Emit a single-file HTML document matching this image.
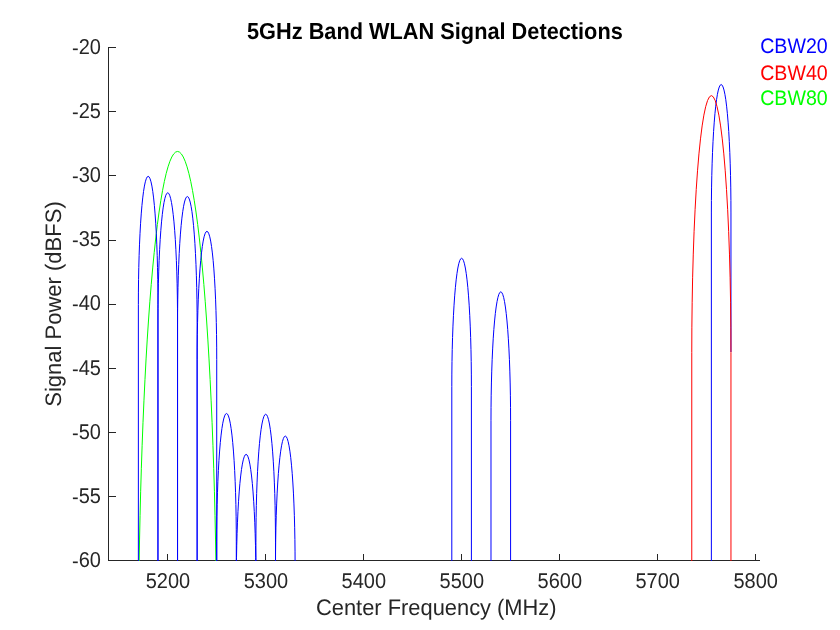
<!DOCTYPE html>
<html><head><meta charset="utf-8"><title>5GHz Band WLAN Signal Detections</title>
<style>
html,body{margin:0;padding:0;background:#fff;}
body{width:840px;height:630px;overflow:hidden;}
svg{display:block;text-rendering:geometricPrecision;font-family:"Liberation Sans",Arial,Helvetica,sans-serif;}
.tk{font-size:20px;fill:#262626;}
.lb{font-size:22px;fill:#262626;}
.tt{font-size:22px;font-weight:bold;fill:#000;}
.lg{font-size:20px;}
</style></head><body>
<svg width="840" height="630" viewBox="0 0 840 630">
<rect width="840" height="630" fill="#fff"/>
<defs><clipPath id="ax"><rect x="108" y="46" width="653" height="515"/></clipPath></defs>
<g stroke="#262626" stroke-width="1" fill="none" shape-rendering="crispEdges">
<path d="M108.5 47.0V560.5H760.0"/>
<path d="M108.5 560.5h7"/>
<path d="M108.5 496.5h7"/>
<path d="M108.5 432.5h7"/>
<path d="M108.5 368.5h7"/>
<path d="M108.5 304.5h7"/>
<path d="M108.5 240.5h7"/>
<path d="M108.5 175.5h7"/>
<path d="M108.5 111.5h7"/>
<path d="M108.5 47.5h7"/>
<path d="M167.5 560.5v-6.5"/>
<path d="M265.5 560.5v-6.5"/>
<path d="M363.5 560.5v-6.5"/>
<path d="M461.5 560.5v-6.5"/>
<path d="M559.5 560.5v-6.5"/>
<path d="M657.5 560.5v-6.5"/>
<path d="M755.5 560.5v-6.5"/>
</g>
<g clip-path="url(#ax)" fill="none" stroke-width="1" stroke-linejoin="round">
<path d="M138.36 565.50L138.36 664.70A39.18 513.50 0 0 1 216.72 664.70L216.72 565.50" stroke="#00ff00"/>
<path d="M138.37 565.50L138.37 304.68A9.79 128.38 0 0 1 157.95 304.68L157.95 565.50" stroke="#0000ff"/>
<path d="M157.96 565.50L157.96 320.98A9.79 128.38 0 0 1 177.54 320.98L177.54 565.50" stroke="#0000ff"/>
<path d="M177.55 565.50L177.55 324.88A9.79 128.38 0 0 1 197.13 324.88L197.13 565.50" stroke="#0000ff"/>
<path d="M197.14 565.50L197.14 359.68A9.79 128.38 0 0 1 216.72 359.68L216.72 565.50" stroke="#0000ff"/>
<path d="M216.73 565.50L216.73 541.83A9.79 128.38 0 0 1 236.31 541.83L236.31 565.50" stroke="#0000ff"/>
<path d="M236.32 565.50L236.32 582.77A9.79 128.38 0 0 1 255.91 582.77L255.91 565.50" stroke="#0000ff"/>
<path d="M255.91 565.50L255.91 542.67A9.79 128.38 0 0 1 275.50 542.67L275.50 565.50" stroke="#0000ff"/>
<path d="M275.50 565.50L275.50 564.48A9.79 128.38 0 0 1 295.09 564.48L295.09 565.50" stroke="#0000ff"/>
<path d="M451.81 565.50L451.81 386.68A9.79 128.38 0 0 1 471.40 386.68L471.40 565.50" stroke="#0000ff"/>
<path d="M490.99 565.50L490.99 420.27A9.79 128.38 0 0 1 510.58 420.27L510.58 565.50" stroke="#0000ff"/>
<path d="M711.37 565.50L711.37 212.97A9.79 128.38 0 0 1 730.96 212.97L730.96 352.00" stroke="#0000ff"/>
<path d="M691.78 565.50L691.78 352.35A19.59 256.75 0 0 1 730.96 352.35L730.96 565.50" stroke="#ff0000"/>
</g>
<text class="tk" transform="translate(101,567.2) scale(1,1.07)" text-anchor="end"><tspan dy="0.85">-</tspan><tspan dy="-0.85">60</tspan></text>
<text class="tk" transform="translate(101,503.0) scale(1,1.07)" text-anchor="end"><tspan dy="0.85">-</tspan><tspan dy="-0.85">55</tspan></text>
<text class="tk" transform="translate(101,438.8) scale(1,1.07)" text-anchor="end"><tspan dy="0.85">-</tspan><tspan dy="-0.85">50</tspan></text>
<text class="tk" transform="translate(101,374.6) scale(1,1.07)" text-anchor="end"><tspan dy="0.85">-</tspan><tspan dy="-0.85">45</tspan></text>
<text class="tk" transform="translate(101,310.4) scale(1,1.07)" text-anchor="end"><tspan dy="0.85">-</tspan><tspan dy="-0.85">40</tspan></text>
<text class="tk" transform="translate(101,246.3) scale(1,1.07)" text-anchor="end"><tspan dy="0.85">-</tspan><tspan dy="-0.85">35</tspan></text>
<text class="tk" transform="translate(101,182.1) scale(1,1.07)" text-anchor="end"><tspan dy="0.85">-</tspan><tspan dy="-0.85">30</tspan></text>
<text class="tk" transform="translate(101,117.9) scale(1,1.07)" text-anchor="end"><tspan dy="0.85">-</tspan><tspan dy="-0.85">25</tspan></text>
<text class="tk" transform="translate(101,53.7) scale(1,1.07)" text-anchor="end"><tspan dy="0.85">-</tspan><tspan dy="-0.85">20</tspan></text>
<text class="tk" transform="translate(167.9,587.9) scale(1,1.07)" text-anchor="middle">5200</text>
<text class="tk" transform="translate(265.9,587.9) scale(1,1.07)" text-anchor="middle">5300</text>
<text class="tk" transform="translate(363.8,587.9) scale(1,1.07)" text-anchor="middle">5400</text>
<text class="tk" transform="translate(461.8,587.9) scale(1,1.07)" text-anchor="middle">5500</text>
<text class="tk" transform="translate(559.8,587.9) scale(1,1.07)" text-anchor="middle">5600</text>
<text class="tk" transform="translate(657.7,587.9) scale(1,1.07)" text-anchor="middle">5700</text>
<text class="tk" transform="translate(755.7,587.9) scale(1,1.07)" text-anchor="middle">5800</text>
<text class="lb" transform="translate(316,614.8) scale(1,1.02)" textLength="240.6" lengthAdjust="spacingAndGlyphs">Center Frequency (MHz)</text>
<text class="lb" transform="translate(61.2,304) rotate(-90) scale(1,1.02)" text-anchor="middle">Signal Power (dBFS)</text>
<text class="tt" transform="translate(247.0,38.6) scale(1,1.05)" textLength="375.8" lengthAdjust="spacingAndGlyphs">5GHz Band WLAN Signal Detections</text>
<text class="lg" transform="translate(760.2,53.3) scale(0.98,1.05)" fill="#0000ff">CBW20</text>
<text class="lg" transform="translate(760.2,79.6) scale(0.98,1.05)" fill="#ff0000">CBW40</text>
<text class="lg" transform="translate(760.2,104.5) scale(0.98,1.05)" fill="#00ff00">CBW80</text>
</svg></body></html>
